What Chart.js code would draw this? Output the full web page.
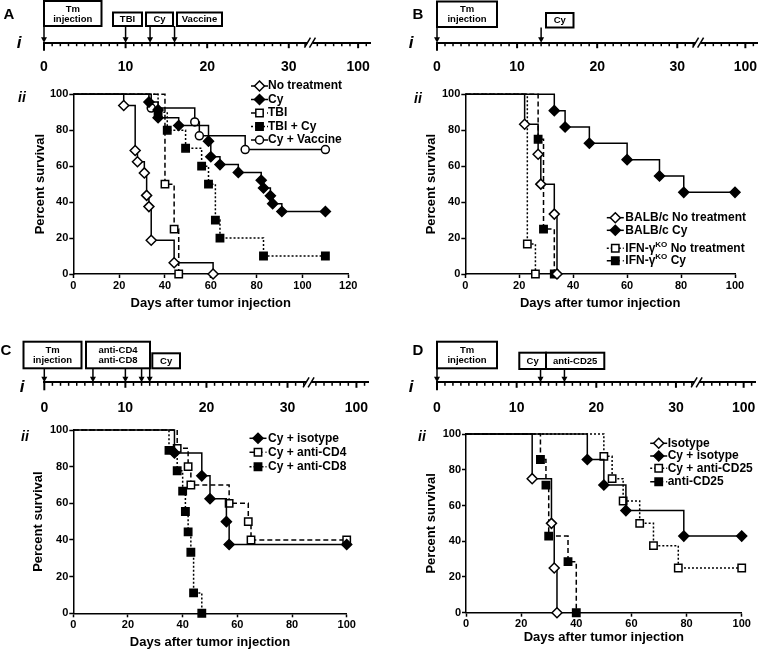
<!DOCTYPE html>
<html>
<head>
<meta charset="utf-8">
<script src="https://cdn.jsdelivr.net/npm/chart.js@4.4.1/dist/chart.umd.min.js"></script>
<style>
  html, body { margin: 0; padding: 0; background: #fff; }
  #fig { position: relative; width: 773px; height: 652px; overflow: hidden;
         font-family: 'Liberation Sans', Arial, Helvetica, sans-serif; }
  canvas { position: absolute; }
  .lbl { position: absolute; font-weight: bold; color: #000; line-height: 1;
         transform: translate(-50%, -50%); white-space: nowrap; }
  .panel { font-size: 15px; }
  .i1 { font-size: 17px; font-style: italic; }
  .i2 { font-size: 14px; font-style: italic; }
</style>
</head>
<body>
<div id="fig">
  <canvas id="tlA"></canvas><canvas id="svA"></canvas>
  <canvas id="tlB"></canvas><canvas id="svB"></canvas>
  <canvas id="tlC"></canvas><canvas id="svC"></canvas>
  <canvas id="tlD"></canvas><canvas id="svD"></canvas>

  <div class="lbl panel" style="left:9px;top:13px">A</div>
  <div class="lbl panel" style="left:418px;top:13px">B</div>
  <div class="lbl panel" style="left:6px;top:349px">C</div>
  <div class="lbl panel" style="left:418px;top:349px">D</div>

  <div class="lbl i1" style="left:19px;top:42px">i</div>
  <div class="lbl i1" style="left:411px;top:42px">i</div>
  <div class="lbl i1" style="left:22px;top:386px">i</div>
  <div class="lbl i1" style="left:411px;top:386px">i</div>

  <div class="lbl i2" style="left:22px;top:97px">ii</div>
  <div class="lbl i2" style="left:418px;top:98px">ii</div>
  <div class="lbl i2" style="left:25px;top:436px">ii</div>
  <div class="lbl i2" style="left:422px;top:436px">ii</div>
</div>

<script>
// ---- timeline axis (day axis with a break before day 100) ----
const tlTickDays   = [0, 10, 20, 30, 38.5];
const tlTickLabels = ['0', '10', '20', '30', '100'];
const tlMinorDays  = [1, 2, 3, 4, 5, 6, 7, 8, 9, 11, 12, 13, 14, 15, 16, 17, 18, 19,
                      21, 22, 23, 24, 25, 26, 27, 28, 29, 31, 32,
                      33.5, 34.5, 35.5, 36.5, 37.5, 39.5];
const tlBreakDay = 32.6;

// ---- timeline events (days) ----
const aEventDays = [0, 10, 13, 16];
const bEventDays = [0, 13];
const cEventDays = [0, 6, 10, 12, 13];
const dEventDays = [0, 13, 16];

// ---- panel A survival ----
const aLabels = ['No treatment', 'Cy', 'TBI', 'TBI + Cy', 'Cy + Vaccine'];
const aNoTrtDays = [0, 22, 27, 28, 31, 32, 33, 34, 44, 61];
const aNoTrtPct  = [100, 93.75, 68.75, 62.5, 56.25, 43.75, 37.5, 18.75, 6.25, 0];
const aCyDays = [0, 33, 37, 37, 46, 59, 60, 64, 72, 82, 83, 86, 87, 91, 110];
const aCyPct  = [100, 95.65, 91.3, 86.96, 82.61, 73.91, 65.22, 60.87, 56.52, 52.17, 47.83, 43.48, 39.13, 34.78, 34.78];
const aTbiDays = [0, 40, 44, 46];
const aTbiPct  = [100, 50, 25, 0];
const aTbiCyDays = [0, 37, 41, 49, 56, 59, 62, 64, 83, 110];
const aTbiCyPct  = [100, 90, 80, 70, 60, 50, 30, 20, 10, 10];
const aVacDays = [0, 34, 53, 55, 75, 110];
const aVacPct  = [100, 92.31, 84.62, 76.92, 69.23, 69.23];

// ---- panel B survival ----
const bLabels = ['BALB/c No treatment', 'BALB/c Cy', 'IFN-γ^KO No treatment', 'IFN-γ^KO Cy'];
const bBalbNoDays = [0, 22, 27, 28, 33, 34];
const bBalbNoPct  = [100, 83.33, 66.67, 50, 33.33, 0];
const bBalbCyDays = [0, 33, 37, 46, 60, 72, 81, 100];
const bBalbCyPct  = [100, 90.91, 81.82, 72.73, 63.64, 54.55, 45.45, 45.45];
const bKoNoDays = [0, 23, 26];
const bKoNoPct  = [100, 16.67, 0];
const bKoCyDays = [0, 27, 29, 33];
const bKoCyPct  = [100, 75, 25, 0];

// ---- panel C survival ----
const cLabels = ['Cy + isotype', 'Cy + anti-CD4', 'Cy + anti-CD8'];
const cIsoDays = [0, 37, 47, 50, 56, 57, 100];
const cIsoPct  = [100, 87.5, 75, 62.5, 50, 37.5, 37.5];
const cCd4Days = [0, 38, 42, 43, 57, 64, 65, 100];
const cCd4Pct  = [100, 90, 80, 70, 60, 50, 40, 40];
const cCd8Days = [0, 35, 38, 40, 41, 42, 43, 44, 47];
const cCd8Pct  = [100, 88.89, 77.78, 66.67, 55.56, 44.44, 33.33, 11.11, 0];

// ---- panel D survival ----
const dLabels = ['Isotype', 'Cy + isotype', 'Cy + anti-CD25', 'anti-CD25'];
const dIsoDays = [0, 24, 31, 32, 33];
const dIsoPct  = [100, 75, 50, 25, 0];
const dCyIsoDays = [0, 44, 50, 58, 79, 100];
const dCyIsoPct  = [100, 85.71, 71.43, 57.14, 42.86, 42.86];
const dCyCd25Days = [0, 50, 53, 57, 63, 68, 77, 100];
const dCyCd25Pct  = [100, 87.5, 75, 62.5, 50, 37.5, 25, 25];
const dCd25Days = [0, 27, 29, 30, 37, 40];
const dCd25Pct  = [100, 85.71, 71.43, 42.86, 28.57, 0];

// ---------------------------------------------------------------
const FONT = "'Liberation Sans', Arial, Helvetica, sans-serif";
Chart.defaults.font.family = FONT;
Chart.defaults.font.weight = 'bold';
Chart.defaults.color = '#000';

const DASH = { solid: [], dashed: [5, 3], dotted: [2, 2] };
const RAD = { rectRot: 5, rect: 5.2, circle: 4 };

function drawMarker(ctx, style, x, y, r, fill) {
  ctx.beginPath();
  if (style === 'rectRot') {
    ctx.moveTo(x, y - r); ctx.lineTo(x + r, y); ctx.lineTo(x, y + r); ctx.lineTo(x - r, y); ctx.closePath();
  } else if (style === 'rect') {
    const s = r * Math.SQRT1_2;
    ctx.rect(x - s, y - s, 2 * s, 2 * s);
  } else {
    ctx.arc(x, y, r, 0, Math.PI * 2);
  }
  ctx.fillStyle = fill; ctx.fill();
  ctx.lineWidth = 1.5; ctx.strokeStyle = '#000'; ctx.stroke();
}

// legend drawn as line sample + marker + text
const kmLegend = {
  id: 'kmLegend',
  afterDraw(chart, args, o) {
    const ctx = chart.ctx;
    ctx.save();
    chart.data.datasets.forEach((ds, i) => {
      const y = o.ys[i] - o.top, mx = o.mx - o.left, tx = o.tx - o.left;
      ctx.strokeStyle = '#000'; ctx.lineWidth = 1.5;
      ctx.setLineDash(ds.borderDash);
      ctx.beginPath(); ctx.moveTo(mx - 8.5, y); ctx.lineTo(mx + 8.5, y); ctx.stroke();
      ctx.setLineDash([]);
      drawMarker(ctx, ds.pointStyle, mx, y, RAD[ds.pointStyle], ds.pointBackgroundColor);
      ctx.fillStyle = '#000'; ctx.textAlign = 'left'; ctx.textBaseline = 'middle';
      const parts = ds.label.split(/\^(\w+)/);
      let x = tx;
      parts.forEach((p, k) => {
        if (k % 2 === 1) {
          ctx.font = 'bold 8px ' + FONT;
          ctx.fillText(p, x, y - 4);
        } else {
          ctx.font = 'bold 12px ' + FONT;
          ctx.fillText(p, x, y);
        }
        x += ctx.measureText(p).width;
      });
    });
    ctx.restore();
  }
};

function survival(id, box, area, xMax, series, legend, titleX, titleY) {
  const [cl, ct, cw, ch] = box;
  const cv = document.getElementById(id);
  cv.width = cw; cv.height = ch;
  cv.style.left = cl + 'px'; cv.style.top = ct + 'px';
  const half = 13 * 1.2 / 2;
  return new Chart(cv, {
    type: 'line',
    data: {
      datasets: series.map(s => ({
        label: s.label,
        data: s.days.map((d, i) => ({ x: d, y: s.pct[i] })),
        stepped: 'before',
        borderColor: '#000',
        borderWidth: 1.5,
        borderDash: DASH[s.line],
        pointStyle: s.marker,
        pointRadius: s.days.map((d, i) => i === 0 ? 0 : RAD[s.marker]),
        pointBackgroundColor: s.filled ? '#000' : '#fff',
        pointBorderColor: '#000',
        pointBorderWidth: 1.5,
        fill: false,
        clip: false
      }))
    },
    options: {
      responsive: false,
      animation: false,
      events: [],
      layout: { padding: { left: 0, top: area[1] - ct, right: cl + cw - area[2], bottom: 0 } },
      plugins: {
        legend: { display: false },
        tooltip: { enabled: false },
        kmLegend: Object.assign({ left: cl, top: ct }, legend)
      },
      scales: {
        x: {
          type: 'linear', min: 0, max: xMax,
          ticks: { stepSize: 20, font: { size: 11, weight: 'bold' }, padding: 1, maxRotation: 0 },
          grid: { drawOnChartArea: false, tickLength: 4, tickColor: '#000', tickWidth: 1.5 },
          border: { color: '#000', width: 1.5 },
          title: { display: true, text: 'Days after tumor injection',
                   font: { size: 13, weight: 'bold' },
                   padding: { top: 0, bottom: ct + ch - titleY - half } },
          afterFit(s) { s.height = ct + ch - area[3]; }
        },
        y: {
          type: 'linear', min: 0, max: 100,
          ticks: { stepSize: 20, font: { size: 11, weight: 'bold' }, padding: 1 },
          grid: { drawOnChartArea: false, tickLength: 4, tickColor: '#000', tickWidth: 1.5 },
          border: { color: '#000', width: 1.5 },
          title: { display: true, text: 'Percent survival',
                   font: { size: 13, weight: 'bold' },
                   padding: { top: titleX - cl - half, bottom: 0 } },
          afterFit(s) { s.width = area[0] - cl; }
        }
      }
    },
    plugins: [kmLegend]
  });
}

// timeline: axis ticks, break, boxes and arrows
const tlPlugin = {
  id: 'tl',
  afterDraw(chart, args, o) {
    const ctx = chart.ctx, xs = chart.scales.x, ay = chart.chartArea.bottom;
    const px = d => xs.getPixelForValue(d);
    ctx.save();
    ctx.strokeStyle = '#000'; ctx.fillStyle = '#000';
    ctx.lineWidth = 1.5;
    tlMinorDays.forEach(d => {
      ctx.beginPath(); ctx.moveTo(px(d), ay); ctx.lineTo(px(d), ay + 3.5); ctx.stroke();
    });
    ctx.lineWidth = 2;
    tlTickDays.forEach(d => {
      const len = d === 0 ? 8 : 5.5;
      ctx.beginPath(); ctx.moveTo(px(d), ay); ctx.lineTo(px(d), ay + len); ctx.stroke();
    });
    // axis break
    const bx = px(tlBreakDay);
    ctx.fillStyle = '#fff'; ctx.fillRect(bx - 2.5, ay - 3, 5, 6);
    ctx.fillStyle = '#000'; ctx.lineWidth = 1.5;
    [-2.5, 2.5].forEach(dx => {
      ctx.beginPath(); ctx.moveTo(bx + dx - 3, ay + 5); ctx.lineTo(bx + dx + 3, ay - 5); ctx.stroke();
    });
    // boxes
    ctx.font = 'bold 9.5px ' + FONT;
    ctx.textAlign = 'center'; ctx.textBaseline = 'middle';
    o.boxes.forEach(b => {
      const x0 = b.x0 - o.left, x1 = b.x1 - o.left, y0 = b.y0 - o.top, y1 = b.y1 - o.top;
      ctx.lineWidth = 2; ctx.strokeRect(x0, y0, x1 - x0, y1 - y0);
      const cx = (x0 + x1) / 2, cy = (y0 + y1) / 2;
      b.lines.forEach((t, i) => ctx.fillText(t, cx, cy + (i - (b.lines.length - 1) / 2) * 10 + 0.5));
    });
    // arrows from box bottom to the axis
    o.days.forEach((d, i) => {
      const b = o.boxes[o.boxOf[i]];
      const x = px(d), y0 = b.y1 - o.top;
      ctx.lineWidth = 1.5;
      ctx.beginPath(); ctx.moveTo(x, y0); ctx.lineTo(x, ay - 4); ctx.stroke();
      ctx.beginPath(); ctx.moveTo(x - 3, ay - 5.5); ctx.lineTo(x + 3, ay - 5.5); ctx.lineTo(x, ay); ctx.closePath(); ctx.fill();
    });
    ctx.restore();
  }
};

function timeline(id, box, day0, axisY, labelY, days, boxOf, boxes) {
  const [cl, ct, cw, ch] = box;
  const cv = document.getElementById(id);
  cv.width = cw; cv.height = ch;
  cv.style.left = cl + 'px'; cv.style.top = ct + 'px';
  const pxPerDay = 8.35;
  return new Chart(cv, {
    type: 'line',
    data: { datasets: [{ data: days.map(d => ({ x: d, y: 0 })), showLine: false, pointRadius: 0 }] },
    options: {
      responsive: false, animation: false, events: [],
      layout: { padding: { left: day0 - cl, right: cl + cw - (day0 + 40 * pxPerDay), top: 0, bottom: 0 } },
      plugins: {
        legend: { display: false }, tooltip: { enabled: false },
        tl: { left: cl, top: ct, days: days, boxOf: boxOf, boxes: boxes }
      },
      scales: {
        x: {
          type: 'linear', min: 0, max: 40,
          afterBuildTicks(s) { s.ticks = tlTickDays.map(v => ({ value: v })); },
          ticks: { font: { size: 14, weight: 'bold' }, padding: labelY - axisY - 8.4,
                   autoSkip: false, maxRotation: 0,
                   callback: (v, i) => tlTickLabels[i] },
          grid: { display: false, drawTicks: false },
          border: { display: true, color: '#000', width: 2 },
          afterFit(s) { s.height = ct + ch - axisY; }
        },
        y: { display: false, min: 0, max: 1 }
      }
    },
    plugins: [tlPlugin]
  });
}

// ---- timelines ----
timeline('tlA', [0, 0, 386, 80], 44, 42.7, 67, aEventDays, [0, 1, 2, 3], [
  { x0: 44, x1: 101.5, y0: 1, y1: 26, lines: ['Tm', 'injection'] },
  { x0: 113, x1: 142, y0: 12.5, y1: 26, lines: ['TBI'] },
  { x0: 146, x1: 173, y0: 12.5, y1: 26, lines: ['Cy'] },
  { x0: 177, x1: 222, y0: 12.5, y1: 26, lines: ['Vaccine'] }
]);
timeline('tlB', [386, 0, 387, 80], 437, 42.7, 67, bEventDays, [0, 1], [
  { x0: 437, x1: 497, y0: 1.5, y1: 27, lines: ['Tm', 'injection'] },
  { x0: 546, x1: 573.5, y0: 13, y1: 27.5, lines: ['Cy'] }
]);
timeline('tlC', [0, 330, 386, 90], 44.3, 382.3, 408.3, cEventDays, [0, 1, 1, 1, 2], [
  { x0: 23.5, x1: 81.5, y0: 341.7, y1: 368.3, lines: ['Tm', 'injection'] },
  { x0: 86, x1: 150, y0: 341.7, y1: 368.3, lines: ['anti-CD4', 'anti-CD8'] },
  { x0: 152.3, x1: 180, y0: 353.3, y1: 368.3, lines: ['Cy'] }
]);
timeline('tlD', [386, 330, 387, 90], 437, 382.3, 408.3, dEventDays, [0, 1, 2], [
  { x0: 437, x1: 497, y0: 341.7, y1: 368.3, lines: ['Tm', 'injection'] },
  { x0: 519.3, x1: 546, y0: 352.7, y1: 369, lines: ['Cy'] },
  { x0: 546, x1: 604.3, y0: 352.7, y1: 369, lines: ['anti-CD25'] }
]);

// ---- survival curves ----
survival('svA', [0, 80, 386, 240], [73.3, 94.3, 348.3, 274], 120, [
  { label: aLabels[0], days: aNoTrtDays, pct: aNoTrtPct, marker: 'rectRot', filled: false, line: 'solid' },
  { label: aLabels[1], days: aCyDays, pct: aCyPct, marker: 'rectRot', filled: true, line: 'solid' },
  { label: aLabels[2], days: aTbiDays, pct: aTbiPct, marker: 'rect', filled: false, line: 'dashed' },
  { label: aLabels[3], days: aTbiCyDays, pct: aTbiCyPct, marker: 'rect', filled: true, line: 'dotted' },
  { label: aLabels[4], days: aVacDays, pct: aVacPct, marker: 'circle', filled: false, line: 'solid' }
], { mx: 259.5, tx: 268, ys: [86, 99.5, 113, 126.5, 140] }, 40, 303.3);

survival('svB', [386, 80, 387, 240], [465.3, 94.3, 735, 274], 100, [
  { label: bLabels[0], days: bBalbNoDays, pct: bBalbNoPct, marker: 'rectRot', filled: false, line: 'solid' },
  { label: bLabels[1], days: bBalbCyDays, pct: bBalbCyPct, marker: 'rectRot', filled: true, line: 'solid' },
  { label: bLabels[2], days: bKoNoDays, pct: bKoNoPct, marker: 'rect', filled: false, line: 'dotted' },
  { label: bLabels[3], days: bKoCyDays, pct: bKoCyPct, marker: 'rect', filled: true, line: 'dashed' }
], { mx: 615.3, tx: 625.3, ys: [217.7, 230.3, 248.3, 260.7] }, 431, 303.3);

survival('svC', [0, 420, 386, 232], [73.3, 430, 346.7, 613.3], 100, [
  { label: cLabels[0], days: cIsoDays, pct: cIsoPct, marker: 'rectRot', filled: true, line: 'solid' },
  { label: cLabels[1], days: cCd4Days, pct: cCd4Pct, marker: 'rect', filled: false, line: 'dashed' },
  { label: cLabels[2], days: cCd8Days, pct: cCd8Pct, marker: 'rect', filled: true, line: 'dotted' }
], { mx: 258, tx: 268, ys: [438.3, 452.3, 466.7] }, 38.5, 642);

survival('svD', [386, 420, 387, 232], [466, 434, 741.7, 612.7], 100, [
  { label: dLabels[0], days: dIsoDays, pct: dIsoPct, marker: 'rectRot', filled: false, line: 'solid' },
  { label: dLabels[1], days: dCyIsoDays, pct: dCyIsoPct, marker: 'rectRot', filled: true, line: 'solid' },
  { label: dLabels[2], days: dCyCd25Days, pct: dCyCd25Pct, marker: 'rect', filled: false, line: 'dotted' },
  { label: dLabels[3], days: dCd25Days, pct: dCd25Pct, marker: 'rect', filled: true, line: 'dashed' }
], { mx: 658.7, tx: 667.7, ys: [443.3, 456, 468.3, 481.7] }, 431, 637.5);
</script>
</body>
</html>
